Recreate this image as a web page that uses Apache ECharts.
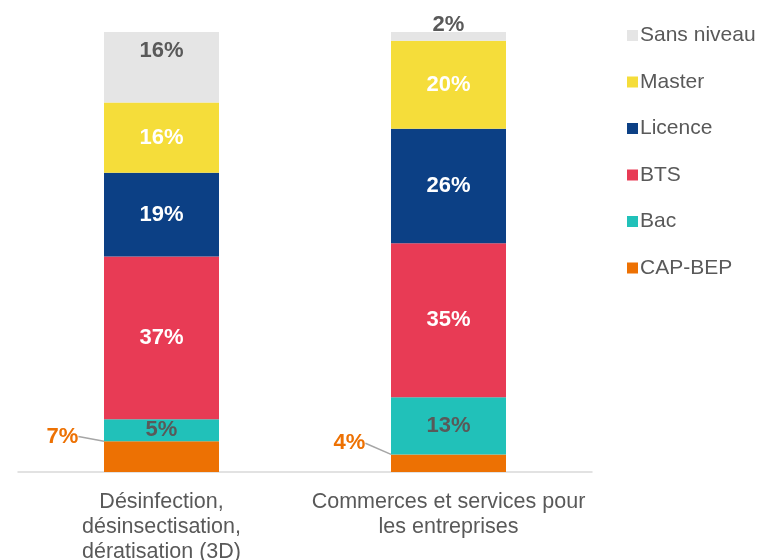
<!DOCTYPE html>
<html>
<head>
<meta charset="utf-8">
<script src="https://cdn.jsdelivr.net/npm/echarts@6/dist/echarts.min.js"></script>
<style>
  html, body { margin: 0; padding: 0; background: #fff; }
  #chart { width: 761px; height: 560px; }
</style>
</head>
<body>
<div id="chart"></div>
<script>
// catégories (axe x)
const categories = ['Désinfection,\ndésinsectisation,\ndératisation (3D)', 'Commerces et services pour\nles entreprises']
// parts en % par niveau de diplôme
const capBep = [7, 4]
const bac = [5, 13]
const bts = [37, 35]
const licence = [19, 26]
const master = [16, 20]
const sansNiveau = [16, 2]
const legendOrder = ['Sans niveau', 'Master', 'Licence', 'BTS', 'Bac', 'CAP-BEP']

const font = 'Liberation Sans, Arial, sans-serif'
const chart = echarts.init(document.getElementById('chart'))

function barSeries (name, data, color, labelColor, extra) {
  return Object.assign({
    name: name,
    type: 'bar',
    stack: 'total',
    barWidth: 115,
    data: data,
    itemStyle: { color: color },
    label: {
      show: true,
      position: 'inside',
      formatter: '{c}%',
      color: labelColor,
      fontFamily: font,
      fontWeight: 'bold',
      fontSize: 22
    }
  }, extra || {})
}

const option = {
  animation: false,
  textStyle: { fontFamily: font },
  grid: { left: 18, right: 169, top: 32, bottom: 88, containLabel: false, outerBoundsMode: 'none' },
  legend: {
    orient: 'vertical',
    left: 622,
    top: 18,
    itemWidth: 11,
    itemHeight: 11,
    itemGap: 21.5,
    icon: 'rect',
    data: legendOrder,
    textStyle: { fontFamily: font, fontSize: 21, lineHeight: 25, color: '#595959', padding: [0, 0, 0, -3] }
  },
  xAxis: {
    type: 'category',
    data: categories,
    axisTick: { show: false },
    axisLine: { lineStyle: { color: '#d9d9d9', width: 1.5 } },
    axisLabel: {
      interval: 0,
      hideOverlap: false,
      margin: 18,
      color: '#595959',
      fontFamily: font,
      fontSize: 21.5,
      lineHeight: 25
    }
  },
  yAxis: {
    type: 'value',
    min: 0,
    max: 100,
    show: false,
    splitLine: { show: false }
  },
  series: [
    barSeries('CAP-BEP', capBep, '#ed7103', '#ed7103', {
      // étiquette déplacée à gauche avec trait de rappel
      labelLayout: { dx: -99, dy: -20 },
      labelLine: { show: true, lineStyle: { color: '#a6a6a6', width: 1.5 } }
    }),
    barSeries('Bac', bac, '#21c1b9', '#595959'),
    barSeries('BTS', bts, '#e83b55', '#ffffff'),
    barSeries('Licence', licence, '#0c4085', '#ffffff'),
    barSeries('Master', master, '#f5dd3a', '#ffffff'),
    barSeries('Sans niveau', [
      { value: sansNiveau[0], label: { position: 'insideTop', distance: 8 } },
      { value: sansNiveau[1], label: { position: 'top', distance: -4 } }
    ], '#e5e5e5', '#595959')
  ]
}
chart.setOption(option)
</script>
</body>
</html>
